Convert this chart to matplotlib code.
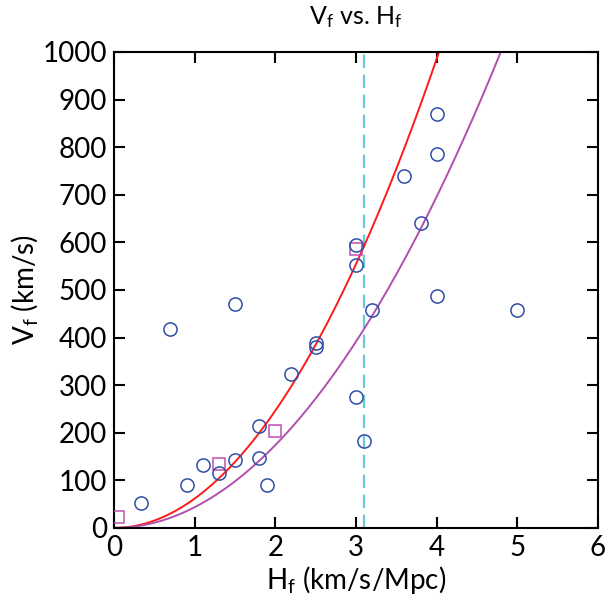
import numpy as np
import matplotlib.pyplot as plt

plt.rcParams['font.family'] = ['Lato', 'DejaVu Sans']
plt.rcParams['mathtext.default'] = 'regular'

# observed galaxies (circles)
h_obs = [0.33, 0.9, 0.7, 1.1, 1.3, 1.5, 1.5, 1.8, 1.8, 1.9, 2.2, 2.5, 2.5,
         3.0, 3.0, 3.0, 3.1, 3.2, 3.6, 3.8, 4.0, 4.0, 4.0, 5.0]
v_obs = [52, 90, 418, 132, 116, 143, 470, 214, 147, 90, 323, 389, 380,
         594, 552, 275, 183, 458, 739, 640, 870, 785, 487, 458]

# second sample (squares)
h_sq = [0.05, 1.3, 2.0, 3.0]
v_sq = [23, 135, 204, 586]

# quadratic model coefficients v = k * H^2
k_red = 61.6
k_purple = 43.5
h_cut = 3.1

fig = plt.figure(figsize=(6.08, 6.04), dpi=100)
ax = fig.add_axes([0.1875, 0.126, 0.7961, 0.788])

hh = np.linspace(0, 6, 400)
ax.plot(hh, k_red * hh**2, color='#ff1a1a', lw=1.4, zorder=2)
ax.plot(hh, k_purple * hh**2, color='#b04fae', lw=1.4, zorder=2)
ax.axvline(h_cut, color='#6ccad8', lw=1.6, ls=(0, (6, 3)), zorder=1)

ax.plot(h_sq, v_sq, ls='none', marker='s', ms=9, mfc='none',
        mec='#c050b0', mew=1.1, zorder=3)
ax.plot(h_obs, v_obs, ls='none', marker='o', ms=9.5, mfc='none',
        mec='#2f4ea6', mew=1.1, zorder=4)

ax.set_xlim(0, 6)
ax.set_ylim(0, 1000)
ax.set_xticks(range(0, 7))
ax.set_yticks(range(0, 1001, 100))
ax.tick_params(direction='in', top=True, right=True, length=8, width=1.5,
               labelsize=20, pad=5)
for s in ax.spines.values():
    s.set_linewidth(1.5)

ax.set_title('V$_f$ vs. H$_f$', fontsize=18, pad=20)
ax.set_xlabel('H$_f$ (km/s/Mpc)', fontsize=20, labelpad=2)
ax.set_ylabel('V$_f$ (km/s)', fontsize=20, labelpad=2)

fig.savefig('out.png', dpi=100)
